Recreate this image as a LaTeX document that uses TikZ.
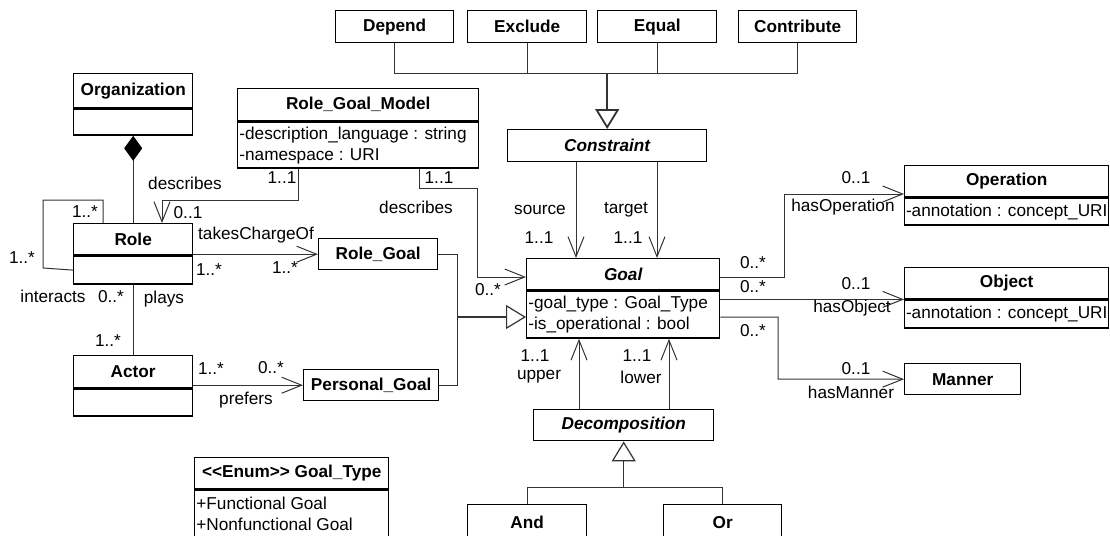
\documentclass[tikz,border=0pt]{standalone}
\usepackage{fontspec}
\setmainfont{Liberation Sans}
\usepackage{tikz}
\usetikzlibrary{arrows.meta}

\begin{document}
\begin{tikzpicture}[x=0.5pt,y=0.5pt]
\tikzstyle{every node}+=[inner sep=0pt, font=\fontsize{8.6}{10.5}\selectfont]
\tikzstyle{hdr}=[draw, line width=0.7pt, anchor=north west, minimum height=15.5pt, font=\fontsize{8.6}{10.5}\selectfont\bfseries]
\tikzstyle{cmp}=[draw, line width=0.7pt, anchor=north]
\tikzstyle{attr}=[anchor=west, align=left]
\tikzstyle{link}=[line width=0.5pt, black!80]
\tikzstyle{nav}=[link, -{Straight Barb[length=10pt,width=8pt]}]
\tikzstyle{gen}=[link, line width=0.6pt, -{Triangle[open,length=10pt,width=12pt,fill=white]}]
\clip (0,0) rectangle (1110,-536);
% classes
\node[hdr, minimum width=59.5pt, minimum height=17pt] (orgH) at (73,-73) {Organization};
\node[cmp, minimum width=59.5pt, minimum height=13pt] (orgB) at (orgH.south) {};
\node[hdr, minimum width=59.5pt] (roleH) at (73,-223) {Role};
\node[cmp, minimum width=59.5pt, minimum height=14pt] (roleB) at (roleH.south) {};
\node[hdr, minimum width=59.5pt, minimum height=16pt] (actorH) at (73,-355) {Actor};
\node[cmp, minimum width=59.5pt, minimum height=13.5pt] (actorB) at (actorH.south) {};
\node[hdr, minimum width=120.5pt, minimum height=16pt] (rgmH) at (237,-88) {Role\_Goal\_Model};
\node[cmp, minimum width=120.5pt, minimum height=23pt] (rgmB) at (rgmH.south) {};
\node[attr] (rgmT) at ([xshift=1pt]rgmB.west) {-description\_language : string\\-namespace : URI};
\node[hdr, minimum width=59.5pt] (rolegoal) at (318,-238) {Role\_Goal};
\node[hdr, minimum width=67.5pt] (pgoal) at (303,-369) {Personal\_Goal};
\node[hdr, minimum width=97pt] (enumH) at (194,-457) {<\kern0pt<Enum>\kern0pt> Goal\_Type};
\node[cmp, minimum width=97pt, minimum height=23.5pt] (enumB) at (enumH.south) {};
\node[attr] (enumT) at ([xshift=1pt]enumB.west) {+Functional Goal\\+Nonfunctional Goal};
\node[hdr, minimum width=59pt, minimum height=16pt] (depend) at (335,-10) {Depend};
\node[hdr, minimum width=59.5pt, minimum height=16pt] (exclude) at (467,-10) {Exclude};
\node[hdr, minimum width=59.5pt, minimum height=16pt] (equal) at (597,-10) {Equal};
\node[hdr, minimum width=59pt, minimum height=16pt] (contribute) at (738,-10) {Contribute};
\node[hdr, minimum width=99.5pt, minimum height=16pt] (constraint) at (507,-129) {\itshape Constraint};
\node[hdr, minimum width=96.5pt] (goalH) at (526,-258) {\itshape Goal};
\node[cmp, minimum width=96.5pt, minimum height=23.5pt] (goalB) at (goalH.south) {};
\node[attr] (goalT) at ([xshift=1pt]goalB.west) {-goal\_type : Goal\_Type\\-is\_operational : bool};
\node[hdr, minimum width=102pt] (opH) at (904,-165) {Operation};
\node[cmp, minimum width=102pt, minimum height=13.5pt] (opB) at (opH.south) {};
\node[attr] (opT) at ([xshift=0.8pt]opB.west) {-annotation : concept\_URI};
\node[hdr, minimum width=102pt] (objH) at (904,-267) {Object};
\node[cmp, minimum width=102pt, minimum height=14pt] (objB) at (objH.south) {};
\node[attr] (objT) at ([xshift=0.8pt]objB.west) {-annotation : concept\_URI};
\node[hdr, minimum width=58pt] (manner) at (904,-363) {Manner};
\node[hdr, minimum width=90pt] (decomp) at (533,-409) {\itshape Decomposition};
\node[hdr, minimum width=59.5pt, minimum height=18pt] (and) at (467,-504) {And};
\node[hdr, minimum width=59pt, minimum height=18pt] (or) at (663,-504) {Or};
% connectors
\draw[link, -{Diamond[length=12.5pt,width=9pt,color=black]}] (roleH.north) -- (orgB.south);
\draw[link] (roleH.north -| 103,0) -- (103,-200) -- (43,-200) -- (43,-268) -- (roleB.west);
\draw[link] (roleB.south) -- (actorH.north);
\draw[nav] (rgmB.south -| 298,0) -- (298,-200) -- (162,-200) -- (roleH.north -| 162,0);
\draw[nav] (roleH.east |- rolegoal.west) -- (rolegoal.west);
\draw[nav] (actorH.east |- pgoal.west) -- (pgoal.west);
\draw[nav] (rgmB.south -| 419,0) -- (419,-188) -- (477,-188) -- (477,-277) -- (goalH.west |- 0,-277);
\draw[link] (rolegoal.east) -| (457,-317);
\draw[link] (pgoal.east) -| (457,-317);
\draw[gen] (457,-317) -- (goalB.west |- 0,-317);
\draw[nav] (constraint.south -| 576,0) -- (goalH.north -| 576,0);
\draw[nav] (constraint.south -| 657,0) -- (goalH.north -| 657,0);
\draw[link] (depend.south) |- (contribute.south |- 0,-73) -- (contribute.south);
\draw[link] (exclude.south) -- (exclude.south |- 0,-73);
\draw[link] (equal.south) -- (equal.south |- 0,-73);
\draw[gen, line width=0.9pt] (constraint.north |- 0,-73) -- (constraint.north);
\draw[nav] (goalH.east |- 0,-277) -- (784,-277) -- (784,-194) -- (opH.west |- 0,-194);
\draw[nav] (goalB.east |- objH.south west) -- (objH.south west);
\draw[nav] (goalB.east |- 0,-317) -- (778,-317) -- (778,-379) -- (manner.west);
\draw[nav] (decomp.north -| 579,0) -- (goalB.south -| 579,0);
\draw[nav] (decomp.north -| 669,0) -- (goalB.south -| 669,0);
\draw[link] (and.north) |- (or.north |- 0,-487) -- (or.north);
\draw[gen] (decomp.south |- 0,-487) -- (decomp.south);
% labels
\node (lLoopTop) at (85,-212) {1..*};
\node (lLoopLeft) at (22,-258) {1..*};
\node (lInteracts) at (53,-296) {interacts};
\node (lPlaysA) at (111,-297) {0..*};
\node (lPlays) at (164,-299) {plays};
\node (lDescL) at (185,-183) {describes};
\node (lRgmL) at (282,-178) {1..1};
\node (lRoleDesc) at (188,-213) {0..1};
\node (lTakes) at (256,-235) {takesChargeOf};
\node (lTakesA) at (209,-270) {1..*};
\node (lTakesB) at (285,-268) {1..*};
\node (lRgmR) at (439,-178) {1..1};
\node (lDescR) at (416,-207) {describes};
\node (lGoalDesc) at (488,-290) {0..*};
\node (lSource) at (540,-210) {source};
\node (lTarget) at (626,-210) {target};
\node (lSrcM) at (539,-238) {1..1};
\node (lTgtM) at (628,-238) {1..1};
\node (lOpA) at (753,-263) {0..*};
\node (lObjA) at (753,-287) {0..*};
\node (lManA) at (753,-331) {0..*};
\node (lUpM) at (535,-356) {1..1};
\node (lLowM) at (637,-356) {1..1};
\node (lUpper) at (539,-377) {upper};
\node (lLower) at (641,-377) {lower};
\node (lOpB) at (856,-178) {0..1};
\node (lHasOp) at (843,-207) {hasOperation};
\node (lObjB) at (856,-284) {0..1};
\node (lHasObj) at (852,-308) {hasObject};
\node (lManB) at (856,-369) {0..1};
\node (lHasMan) at (851,-392) {hasManner};
\node (lActTop) at (108,-341) {1..*};
\node (lPrefA) at (211,-369) {1..*};
\node (lPrefB) at (271,-368) {0..*};
\node (lPrefers) at (246,-400) {prefers};
\end{tikzpicture}
\end{document}
